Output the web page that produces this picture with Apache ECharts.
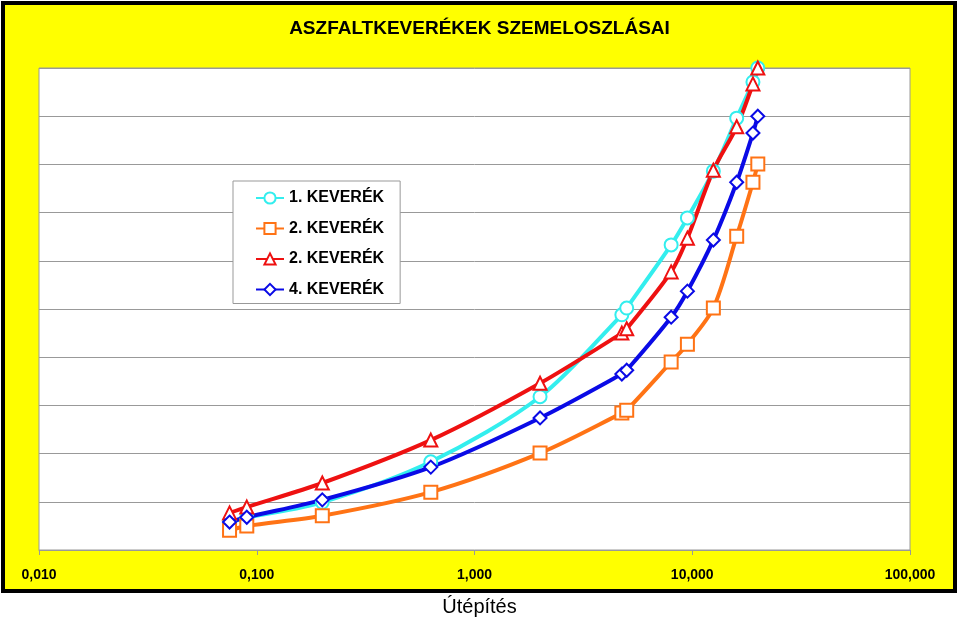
<!DOCTYPE html>
<html>
<head>
<meta charset="utf-8">
<script src="https://cdn.jsdelivr.net/npm/echarts@6/dist/echarts.min.js"></script>
<style>html,body{margin:0;padding:0;background:#fff;}#c{width:959px;height:622px;}</style>
</head>
<body>
<div id="c"></div>
<script>
var sieves = [0.075, 0.09, 0.2, 0.63, 2, 4.75, 5, 8, 9.5, 12.5, 16, 19, 20];
var mix1 = [5.8, 6.7, 9.9, 18.3, 31.8, 48.8, 50.2, 63.3, 68.9, 78.6, 89.6, 97.1, 100];
var mix2 = [4.1, 5.0, 7.1, 12.0, 20.1, 28.4, 29.0, 39.0, 42.7, 50.2, 65.1, 76.3, 80.1];
var mix3 = [7.7, 8.9, 13.9, 22.8, 34.6, 45.0, 45.9, 57.7, 64.7, 78.8, 87.8, 96.7, 100];
var mix4 = [5.8, 6.8, 10.4, 17.2, 27.4, 36.5, 37.3, 48.3, 53.7, 64.3, 76.3, 86.5, 90.0];
var seriesNames = ['1. KEVERÉK', '2. KEVERÉK', '2. KEVERÉK\u200B', '4. KEVERÉK'];
var xTickLabels = ['0,010', '0,100', '1,000', '10,000', '100,000'];
var titleText = 'ASZFALTKEVERÉKEK SZEMELOSZLÁSAI';
var xTitle = 'Útépítés';

var colors = ['#33EEEE', '#FF7315', '#EE1111', '#0A0AE6'];
var symbols = ['emptyCircle', 'emptyRect', 'emptyTriangle', 'emptyDiamond'];
var values = [mix1, mix2, mix3, mix4];

function pairs(v) { return sieves.map(function (s, i) { return [s, v[i]]; }); }

var chart = echarts.init(document.getElementById('c'));
var series = values.map(function (v, k) {
  return {
    name: seriesNames[k],
    type: 'line',
    data: pairs(v),
    smooth: 0.3,
    symbol: symbols[k],
    symbolSize: 13,
    lineStyle: { color: colors[k], width: 4 },
    itemStyle: { color: colors[k], borderWidth: 1.5 },
    emphasis: { disabled: true },
    animation: false
  };
});

chart.setOption({
  animation: false,
  graphic: [
    { type: 'rect', z: -10, shape: { x: 3, y: 3, width: 952, height: 588 },
      style: { fill: '#FFFF00', stroke: '#000', lineWidth: 4 } },
    { type: 'text', left: 'center', top: 19,
      style: { text: titleText, font: 'bold 19px "Liberation Sans", Arial, sans-serif', fill: '#000' } },
    { type: 'text', left: 'center', top: 597,
      style: { text: xTitle, font: '20px "Liberation Sans", Arial, sans-serif', fill: '#000' } }
  ],
  grid: { left: 39, right: 49, top: 68, bottom: 72, show: true, backgroundColor: '#fff', borderColor: '#999', borderWidth: 1 },
  legend: {
    orient: 'vertical', left: 233, top: 181,
    backgroundColor: '#fff', borderColor: '#999', borderWidth: 1,
    padding: [9, 16, 6, 22], itemGap: 14.5, itemWidth: 28, itemHeight: 14,
    textStyle: { fontFamily: '"Liberation Sans", Arial, sans-serif', fontWeight: 'bold', fontSize: 16, color: '#000' },
    formatter: function (n) { return n.replace('\u200B', ''); },
    data: seriesNames
  },
  xAxis: {
    type: 'log', logBase: 10, min: 0.01, max: 100,
    axisLine: { show: true, lineStyle: { color: '#999' } },
    axisTick: { show: true, length: 5, lineStyle: { color: '#999' } },
    splitLine: { show: false },
    minorTick: { show: false },
    axisLabel: {
      margin: 18, color: '#000', fontSize: 14, fontWeight: 'bold',
      fontFamily: '"Liberation Sans", Arial, sans-serif',
      formatter: function (v) {
        var e = Math.round(Math.log10(v)) + 2;
        return xTickLabels[e] || '';
      }
    }
  },
  yAxis: {
    type: 'value', min: 0, max: 100, interval: 10,
    axisLine: { show: false }, axisTick: { show: false }, axisLabel: { show: false },
    splitLine: { show: true, lineStyle: { color: '#999', width: 1 } }
  },
  series: series
});
</script>
</body>
</html>
